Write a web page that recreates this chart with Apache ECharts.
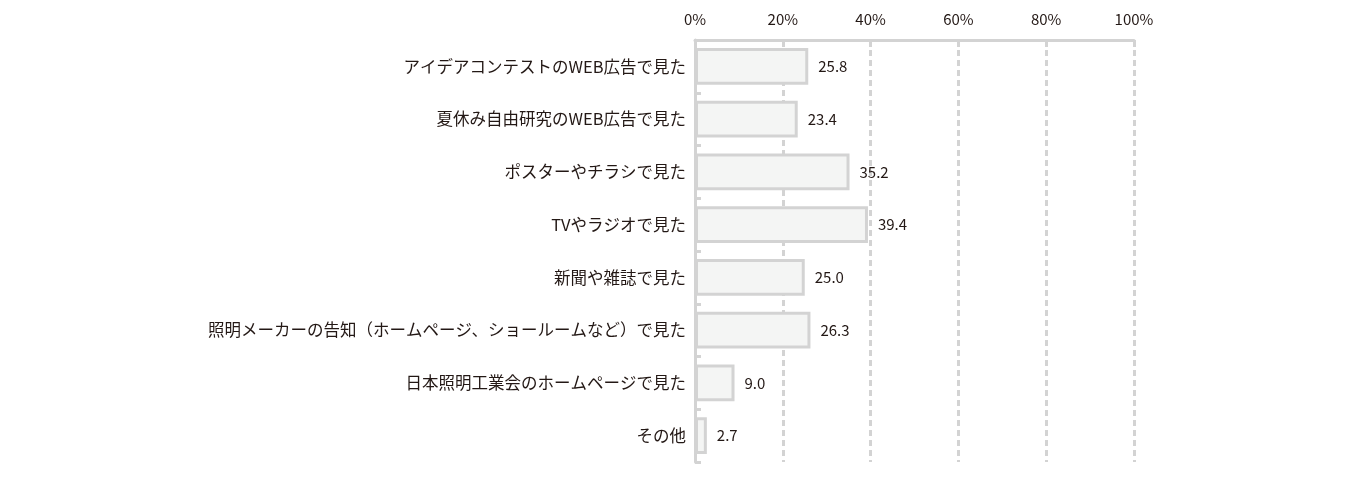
<!DOCTYPE html>
<html><head><meta charset="utf-8">
<script src="https://cdn.jsdelivr.net/npm/echarts@6/dist/echarts.min.js"></script>
<style>html,body{margin:0;padding:0;background:#fff}#c{width:1360px;height:485px}</style>
</head><body><div id="c"></div>
<script>
const categories = ["アイデアコンテストのWEB広告で見た","夏休み自由研究のWEB広告で見た","ポスターやチラシで見た","TVやラジオで見た","新聞や雑誌で見た","照明メーカーの告知（ホームページ、ショールームなど）で見た","日本照明工業会のホームページで見た","その他"];
const values = [25.8, 23.4, 35.2, 39.4, 25.0, 26.3, 9.0, 2.7];
const tickLabels = ["0%","20%","40%","60%","80%","100%"];
const font = '"Noto Sans CJK JP", "Noto Sans", sans-serif';
const chart = echarts.init(document.getElementById('c'));
chart.setOption({
  animation: false,
  grid: {left: 695, right: 226, top: 40, bottom: 23, containLabel: false},
  xAxis: {
    type: 'value', position: 'top', min: 0, max: 100, interval: 20,
    axisLine: {show: true, lineStyle: {color: '#d3d3d3', width: 3}},
    axisTick: {show: true, inside: true, length: 7, lineStyle: {color: '#d3d3d3', width: 3}},
    splitLine: {show: true, lineStyle: {color: '#d3d3d3', width: 3, type: [6, 4]}},
    axisLabel: {color: '#231815', fontSize: 15, fontFamily: font, margin: 13,
      formatter: (v) => tickLabels[Math.round(v / 20)]}
  },
  yAxis: {
    type: 'category', inverse: true, data: categories,
    axisLine: {show: true, lineStyle: {color: '#d3d3d3', width: 3}},
    axisTick: {show: true, inside: true, length: 6, lineStyle: {color: '#d3d3d3', width: 3}},
    axisLabel: {color: '#231815', fontSize: 16.5, fontFamily: font, margin: 9}
  },
  series: [{
    type: 'bar', data: values, barWidth: '70%',
    itemStyle: {color: '#f4f5f4', borderColor: '#d3d3d3', borderWidth: 3},
    label: {show: true, position: 'right', distance: 10, color: '#231815', fontSize: 15, fontFamily: font,
      formatter: (p) => p.value.toFixed(1)}
  }]
});
</script></body></html>
